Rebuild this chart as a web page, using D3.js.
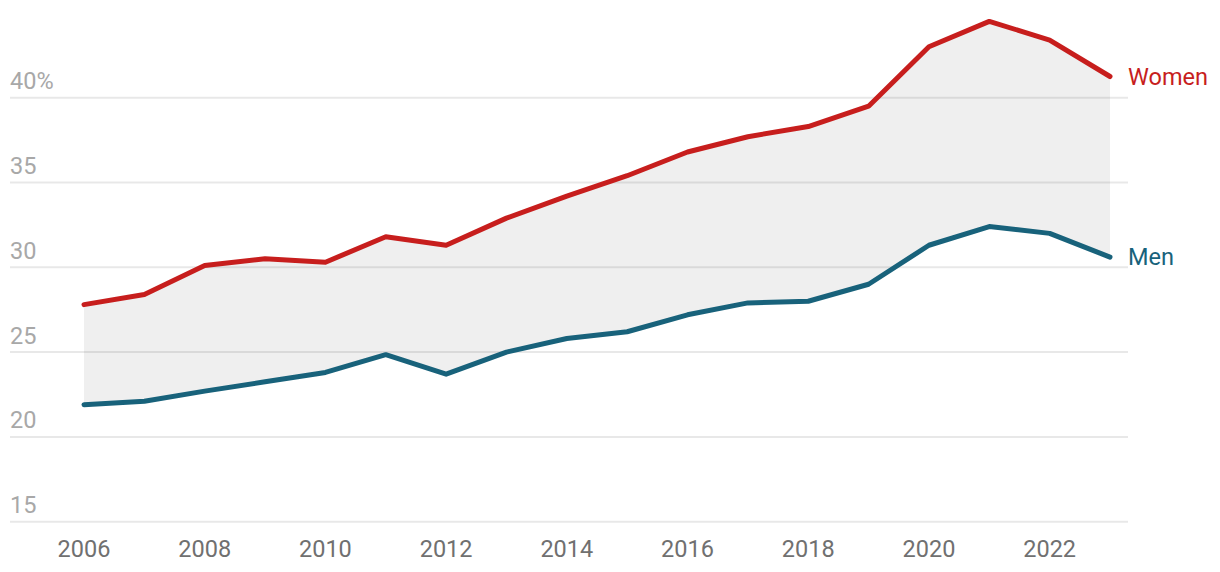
<!DOCTYPE html>
<html><head><meta charset="utf-8">
<script src="https://cdn.jsdelivr.net/npm/d3@7"></script>
<style>body{margin:0;background:#fff;}svg{display:block;font-family:Roboto,"Noto Sans",sans-serif;}</style>
</head><body><svg id="c" width="1220" height="572"></svg>
<script>
const years = [2006,2007,2008,2009,2010,2011,2012,2013,2014,2015,2016,2017,2018,2019,2020,2021,2022,2023];
const women = [27.8,28.4,30.1,30.5,30.3,31.8,31.3,32.9,34.2,35.4,36.8,37.7,38.3,39.5,43.0,44.5,43.4,41.25];
const men = [21.9,22.1,22.7,23.25,23.8,24.85,23.7,25.0,25.8,26.2,27.2,27.9,28.0,29.0,31.3,32.4,32.0,30.6];
const yTicks = [15,20,25,30,35,40];
const xTicks = [2006,2008,2010,2012,2014,2016,2018,2020,2022];

const svg = d3.select("#c");
const x = d3.scaleLinear().domain([2006,2023]).range([84,1110]);
const y = d3.scaleLinear().domain([15,40]).range([521.7,97.7]);

const data = years.map((yr,i)=>({yr, w:women[i], m:men[i]}));

svg.append("path").datum(data)
  .attr("d", d3.area().x(d=>x(d.yr)).y0(d=>y(d.m)).y1(d=>y(d.w)))
  .attr("fill","#efefef");

const g = svg.append("g");
yTicks.forEach(t=>{
  g.append("line").attr("x1",10).attr("x2",1128).attr("y1",y(t)).attr("y2",y(t))
    .attr("stroke","#000").attr("stroke-opacity",0.09).attr("stroke-width",2);
  g.append("text").attr("x",10).attr("y",y(t)-8.5).text(t===40?"40%":t)
    .attr("fill","#a8a8a8").attr("font-size",23.5);
});

xTicks.forEach(t=>{
  svg.append("text").attr("x",x(t)).attr("y",557).attr("text-anchor","middle")
    .text(t).attr("fill","#707070").attr("font-size",23.5);
});

const line = key => d3.line().x(d=>x(d.yr)).y(d=>y(d[key]));
svg.append("path").datum(data).attr("d",line("w")).attr("fill","none")
  .attr("stroke","#c71e1d").attr("stroke-width",5).attr("stroke-linecap","round").attr("stroke-linejoin","round");
svg.append("path").datum(data).attr("d",line("m")).attr("fill","none")
  .attr("stroke","#18627b").attr("stroke-width",5).attr("stroke-linecap","round").attr("stroke-linejoin","round");

svg.append("text").attr("x",1128).attr("y",y(women[women.length-1])+8).text("Women")
  .attr("fill","#c71e1d").attr("font-size",23.5);
svg.append("text").attr("x",1128).attr("y",y(men[men.length-1])+8).text("Men")
  .attr("fill","#18627b").attr("font-size",23.5);
</script></body></html>
